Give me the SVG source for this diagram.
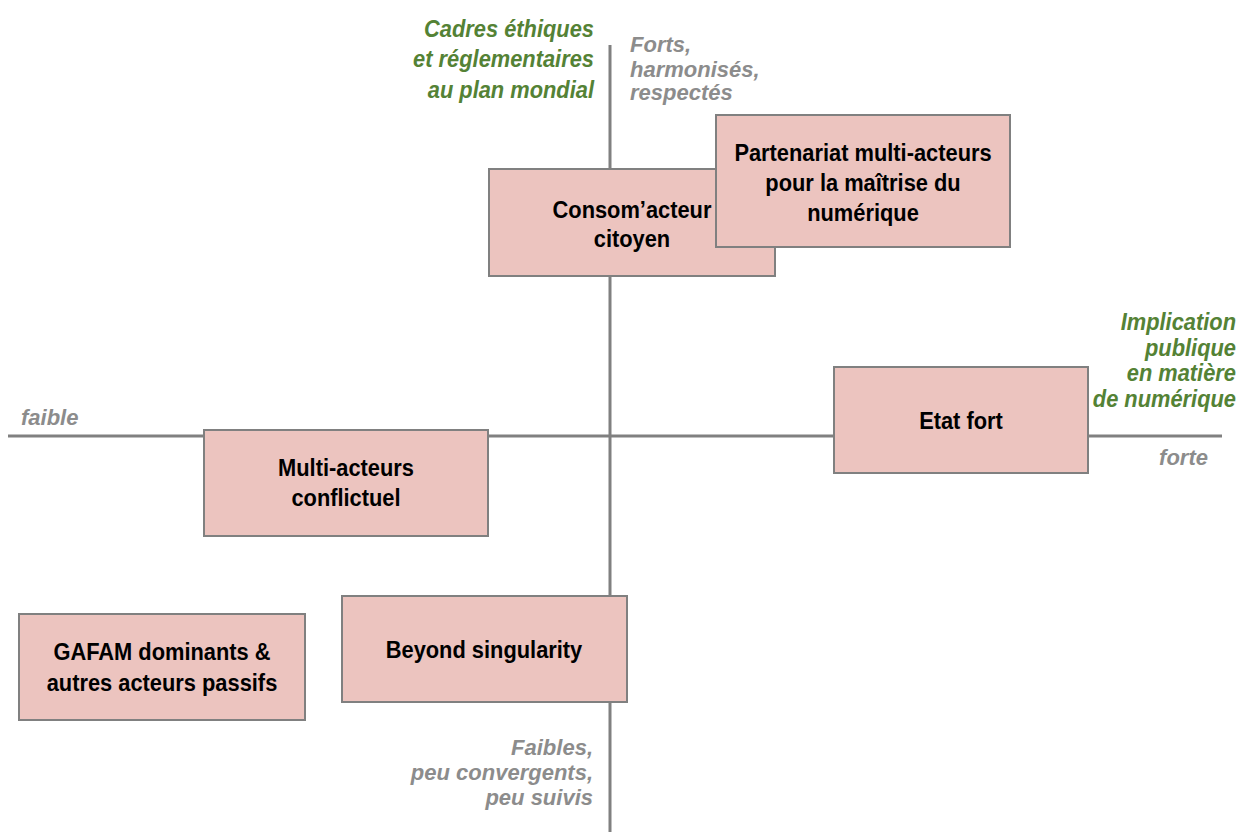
<svg xmlns="http://www.w3.org/2000/svg" width="1240" height="832" viewBox="0 0 1240 832">
<style>
.box{fill:#ecc4bf;stroke:#808080;stroke-width:2}
.axis{stroke:#808080;stroke-width:3;fill:none}
.t{font-family:"Liberation Sans",Arial,sans-serif;font-weight:bold;font-size:24px;fill:#000;text-anchor:middle}
.g{font-family:"Liberation Sans",Arial,sans-serif;font-weight:bold;font-style:italic;font-size:23px;fill:#548235}
.y{font-family:"Liberation Sans",Arial,sans-serif;font-weight:bold;font-style:italic;font-size:22px;fill:#8c8c8c}
</style>
<rect width="1240" height="832" fill="#fff"/>
<g id="axes">
<line class="axis" x1="610" y1="45" x2="610" y2="832"/>
<line class="axis" x1="8" y1="436" x2="1222" y2="436"/>
</g>
<g id="labels">
<text class="g" text-anchor="end" transform="matrix(0.95,0,0,1,29.7,0)"><tspan x="594" y="37">Cadres éthiques</tspan><tspan x="594" y="67">et réglementaires</tspan><tspan x="594" y="98">au plan mondial</tspan></text>
<text class="y"><tspan x="630" y="52">Forts,</tspan><tspan x="630" y="77">harmonisés,</tspan><tspan x="630" y="100">respectés</tspan></text>
<text class="g" text-anchor="end" transform="matrix(0.95,0,0,1,61.8,0)"><tspan x="1236" y="330">Implication</tspan><tspan x="1236" y="356">publique</tspan><tspan x="1236" y="381">en matière</tspan><tspan x="1236" y="407">de numérique</tspan></text>
<text class="y" x="21" y="425">faible</text>
<text class="y" x="1208" y="465" text-anchor="end">forte</text>
<text class="y" text-anchor="end"><tspan x="593" y="755">Faibles,</tspan><tspan x="593" y="780">peu convergents,</tspan><tspan x="593" y="805">peu suivis</tspan></text>
</g>
<g id="consomacteur">
<rect class="box" x="489" y="169" width="286" height="107"/>
<text class="t" transform="matrix(0.91,0,0,1,56.88,0)"><tspan x="632" y="218">Consom’acteur</tspan><tspan x="632" y="247">citoyen</tspan></text>
</g>
<g id="partenariat">
<rect class="box" x="716" y="115" width="294" height="132"/>
<text class="t" transform="matrix(0.91,0,0,1,77.67,0)"><tspan x="863" y="161">Partenariat multi-acteurs</tspan><tspan x="863" y="191">pour la maîtrise du</tspan><tspan x="863" y="221">numérique</tspan></text>
</g>
<g id="etatfort">
<rect class="box" x="834" y="367" width="254" height="106"/>
<text class="t" x="961" y="429" transform="matrix(0.91,0,0,1,86.49,0)">Etat fort</text>
</g>
<g id="multiacteurs">
<rect class="box" x="204" y="430" width="284" height="106"/>
<text class="t" transform="matrix(0.91,0,0,1,31.14,0)"><tspan x="346" y="476">Multi-acteurs</tspan><tspan x="346" y="506">conflictuel</tspan></text>
</g>
<g id="gafam">
<rect class="box" x="19" y="614" width="286" height="106"/>
<text class="t" transform="matrix(0.91,0,0,1,14.58,0)"><tspan x="162" y="660">GAFAM dominants &amp;</tspan><tspan x="162" y="691">autres acteurs passifs</tspan></text>
</g>
<g id="beyond">
<rect class="box" x="342" y="596" width="285" height="106"/>
<text class="t" x="484" y="658" transform="matrix(0.91,0,0,1,43.56,0)">Beyond singularity</text>
</g>
</svg>
